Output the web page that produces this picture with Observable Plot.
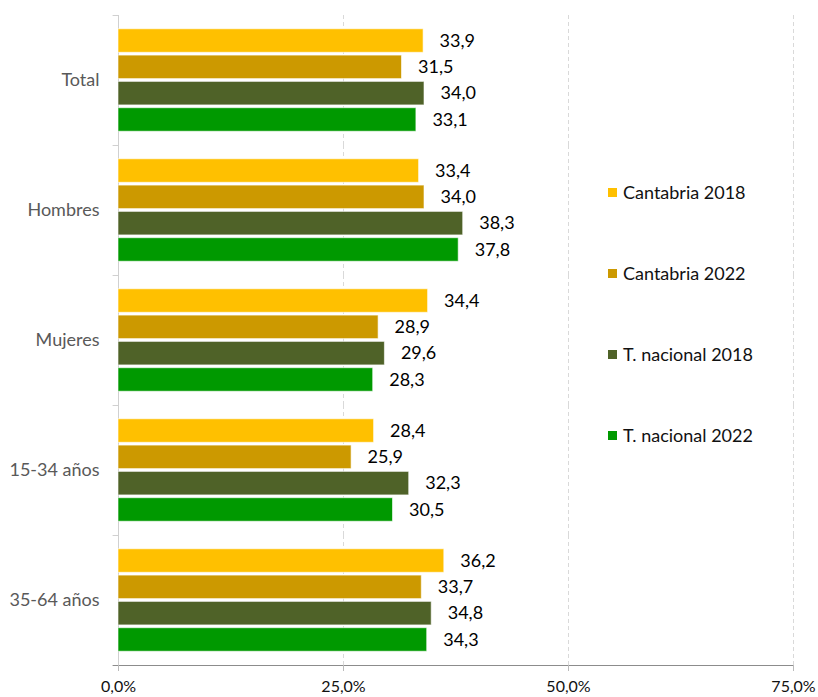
<!DOCTYPE html>
<html><head><meta charset="utf-8">
<script src="https://cdn.jsdelivr.net/npm/d3@7"></script>
<script src="https://cdn.jsdelivr.net/npm/@observablehq/plot@0.6"></script>
<style>
body{margin:0;background:#fff;font-family:Lato,sans-serif}
#wrap{position:relative;width:818px;height:697px}
#legend{position:absolute;left:608px;top:180px;display:flex;flex-direction:column;gap:57px}
.item{display:flex;align-items:center;height:24px;font-size:18px;color:#111;font-family:Lato,sans-serif}
.sw{width:9px;height:9px;margin-right:6px;flex:none}
</style></head><body><div id="wrap"></div>
<script>
const categories = ["Total", "Hombres", "Mujeres", "15-34 años", "35-64 años"];
const series = ["Cantabria 2018", "Cantabria 2022", "T. nacional 2018", "T. nacional 2022"];
const colors = ["#FFC000", "#CC9900", "#4F6228", "#009900"];
const cantabria2018 = [33.9, 33.4, 34.4, 28.4, 36.2];
const cantabria2022 = [31.5, 34.0, 28.9, 25.9, 33.7];
const nacional2018 = [34.0, 38.3, 29.6, 32.3, 34.8];
const nacional2022 = [33.1, 37.8, 28.3, 30.5, 34.3];
const xTicks = [0, 25, 50, 75];

const valuesBySeries = [cantabria2018, cantabria2022, nacional2018, nacional2022];
const data = categories.flatMap((c, ci) => series.map((s, si) => ({category: c, series: s, idx: si, value: valuesBySeries[si][ci]})));
const yPad = 0.47;
const yLo = -0.5 - yPad, yHi = series.length - 0.5 + yPad;
const half = 0.447;
const fmt = v => v.toFixed(1).replace(".", ",");
const tickLen = -0.6;

const chart = Plot.plot({
  width: 818, height: 697,
  marginLeft: 118, marginRight: 25, marginTop: 15, marginBottom: 32,
  style: {fontFamily: "Lato, sans-serif", fontSize: "18px", background: "transparent", color: "#000"},
  x: {domain: [0, 75], label: null},
  y: {domain: [yLo, yHi], reverse: true, axis: null},
  fy: {domain: categories, padding: 0, label: null},
  color: {domain: series, range: colors},
  marks: [
    Plot.ruleX(xTicks.slice(1), {stroke: "#d9d9d9", strokeDasharray: "4,3"}),
    Plot.ruleX([0], {stroke: "#d0d0d0"}),
    Plot.ruleY(categories.map(c => ({fy: c})), {fy: "fy", y: () => yLo, x1: () => tickLen, x2: () => 0, stroke: "#d0d0d0"}),
    Plot.ruleY([{fy: categories[categories.length - 1]}], {fy: "fy", y: () => yHi, x1: () => tickLen, x2: () => 75, stroke: "#8c8c8c"}),
    Plot.rect(data, {fy: "category", x1: () => 0, x2: "value", y1: d => d.idx - half, y2: d => d.idx + half, fill: "series", stroke: "#fff", strokeOpacity: 0.6, strokeWidth: 1}),
    Plot.text(data, {fy: "category", x: "value", y: "idx", text: d => fmt(d.value), textAnchor: "start", dx: 16, fontSize: 18, fill: "#000"}),
    Plot.axisX({ticks: xTicks, tickFormat: d => fmt(d) + "%", tickSize: 6, tickPadding: 9, stroke: "#bbb", fill: "#111", fontSize: 16, label: null}),
    Plot.axisFy({anchor: "left", tickSize: 0, tickPadding: 19, fill: "#595959", fontSize: 18, label: null})
  ]
});
const wrap = document.getElementById("wrap");
wrap.appendChild(chart);
const legend = document.createElement("div");
legend.id = "legend";
series.forEach((s, i) => {
  const it = document.createElement("div");
  it.className = "item";
  const sw = document.createElement("span");
  sw.className = "sw";
  sw.style.background = colors[i];
  it.appendChild(sw);
  it.appendChild(document.createTextNode(s));
  legend.appendChild(it);
});
wrap.appendChild(legend);
</script></body></html>
